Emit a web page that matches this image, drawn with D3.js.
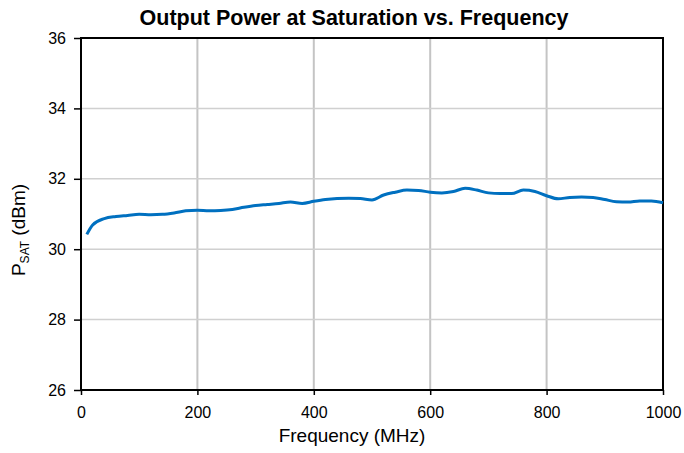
<!DOCTYPE html>
<html>
<head>
<meta charset="utf-8">
<script src="https://cdn.jsdelivr.net/npm/d3@7"></script>
<style>
  body { margin: 0; background: #fff; }
  text { font-family: 'Liberation Sans', Arial, sans-serif; fill: #000; }
</style>
</head>
<body>
<div id="chart"></div>
<script>
// Frequency (MHz) and saturated output power (dBm)
const freqs = [10, 20, 40, 60, 80, 100, 120, 140, 160, 180, 200, 220, 240, 260, 280,
  300, 320, 340, 360, 380, 400, 420, 440, 460, 480, 500, 520, 540, 560, 580, 600,
  620, 640, 660, 680, 700, 720, 740, 760, 780, 800, 820, 840, 860, 880, 900, 920,
  940, 960, 980, 1000];
const psat = [30.42, 30.69, 30.87, 30.93, 30.96, 30.99, 30.98, 30.99, 31.03, 31.09,
  31.11, 31.09, 31.10, 31.13, 31.19, 31.24, 31.27, 31.30, 31.34, 31.30, 31.36, 31.41,
  31.44, 31.45, 31.44, 31.40, 31.54, 31.62, 31.68, 31.67, 31.62, 31.60, 31.64, 31.73,
  31.68, 31.60, 31.58, 31.58, 31.68, 31.64, 31.52, 31.43, 31.47, 31.48, 31.47, 31.41,
  31.35, 31.34, 31.37, 31.37, 31.32];
const xTicks = [0, 200, 400, 600, 800, 1000];
const yTicks = [26, 28, 30, 32, 34, 36];

const width = 684, height = 453;
const margin = {left: 81, right: 21, top: 38, bottom: 63};
const plotW = width - margin.left - margin.right;
const plotH = height - margin.top - margin.bottom;

const svg = d3.select('#chart').append('svg')
    .attr('width', width)
    .attr('height', height);

const x = d3.scaleLinear().domain([0, 1000]).range([0, plotW]);
const y = d3.scaleLinear().domain([26, 36]).range([plotH, 0]);

const g = svg.append('g')
    .attr('transform', 'translate(' + margin.left + ',' + margin.top + ')');

// gridlines
g.append('g').selectAll('line')
    .data(xTicks.slice(1, -1))
    .enter().append('line')
    .attr('x1', d => x(d)).attr('x2', d => x(d))
    .attr('y1', 0).attr('y2', plotH)
    .attr('stroke', '#c4c4c4').attr('stroke-width', 2);

g.append('g').selectAll('line')
    .data(yTicks.slice(1, -1))
    .enter().append('line')
    .attr('x1', 0).attr('x2', plotW)
    .attr('y1', d => y(d)).attr('y2', d => y(d))
    .attr('stroke', '#d0d0d0').attr('stroke-width', 1.5);

// axes
const xAxis = g.append('g')
    .attr('transform', 'translate(0,' + plotH + ')')
    .call(d3.axisBottom(x).tickValues(xTicks).tickFormat(d3.format('d'))
        .tickSize(5).tickPadding(12).tickSizeOuter(0));
const yAxis = g.append('g')
    .call(d3.axisLeft(y).tickValues(yTicks).tickFormat(d3.format('d'))
        .tickSize(7).tickPadding(8).tickSizeOuter(0));

[xAxis, yAxis].forEach(a => {
  a.select('.domain').remove();
  a.selectAll('line').attr('stroke', '#000').attr('stroke-width', 1.5);
  a.selectAll('text').style('font-size', '16px')
      .style('font-family', "'Liberation Sans', Arial, sans-serif");
});

// plot frame
g.append('rect')
    .attr('x', 0).attr('y', 0)
    .attr('width', plotW).attr('height', plotH)
    .attr('fill', 'none')
    .attr('stroke', '#000')
    .attr('stroke-width', 2);

// data line
const line = d3.line()
    .x((d, i) => x(freqs[i]))
    .y(d => y(d))
    .curve(d3.curveMonotoneX);

g.append('path')
    .attr('d', line(psat))
    .attr('fill', 'none')
    .attr('stroke', '#0070c0')
    .attr('stroke-width', 3);

// title
svg.append('text')
    .attr('x', 354)
    .attr('y', 25)
    .attr('text-anchor', 'middle')
    .style('font-size', '21.5px')
    .style('font-weight', 'bold')
    .text('Output Power at Saturation vs. Frequency');

// axis labels
svg.append('text')
    .attr('x', 352)
    .attr('y', 442)
    .attr('text-anchor', 'middle')
    .style('font-size', '19px')
    .text('Frequency (MHz)');

const yLabel = svg.append('text')
    .attr('transform', 'translate(25,' + 230 + ') rotate(-90)')
    .attr('text-anchor', 'middle')
    .style('font-size', '19px');
yLabel.append('tspan').text('P');
yLabel.append('tspan').attr('dy', 4).style('font-size', '12px').text('SAT');
yLabel.append('tspan').attr('dy', -4).text(' (dBm)');
</script>
</body>
</html>
